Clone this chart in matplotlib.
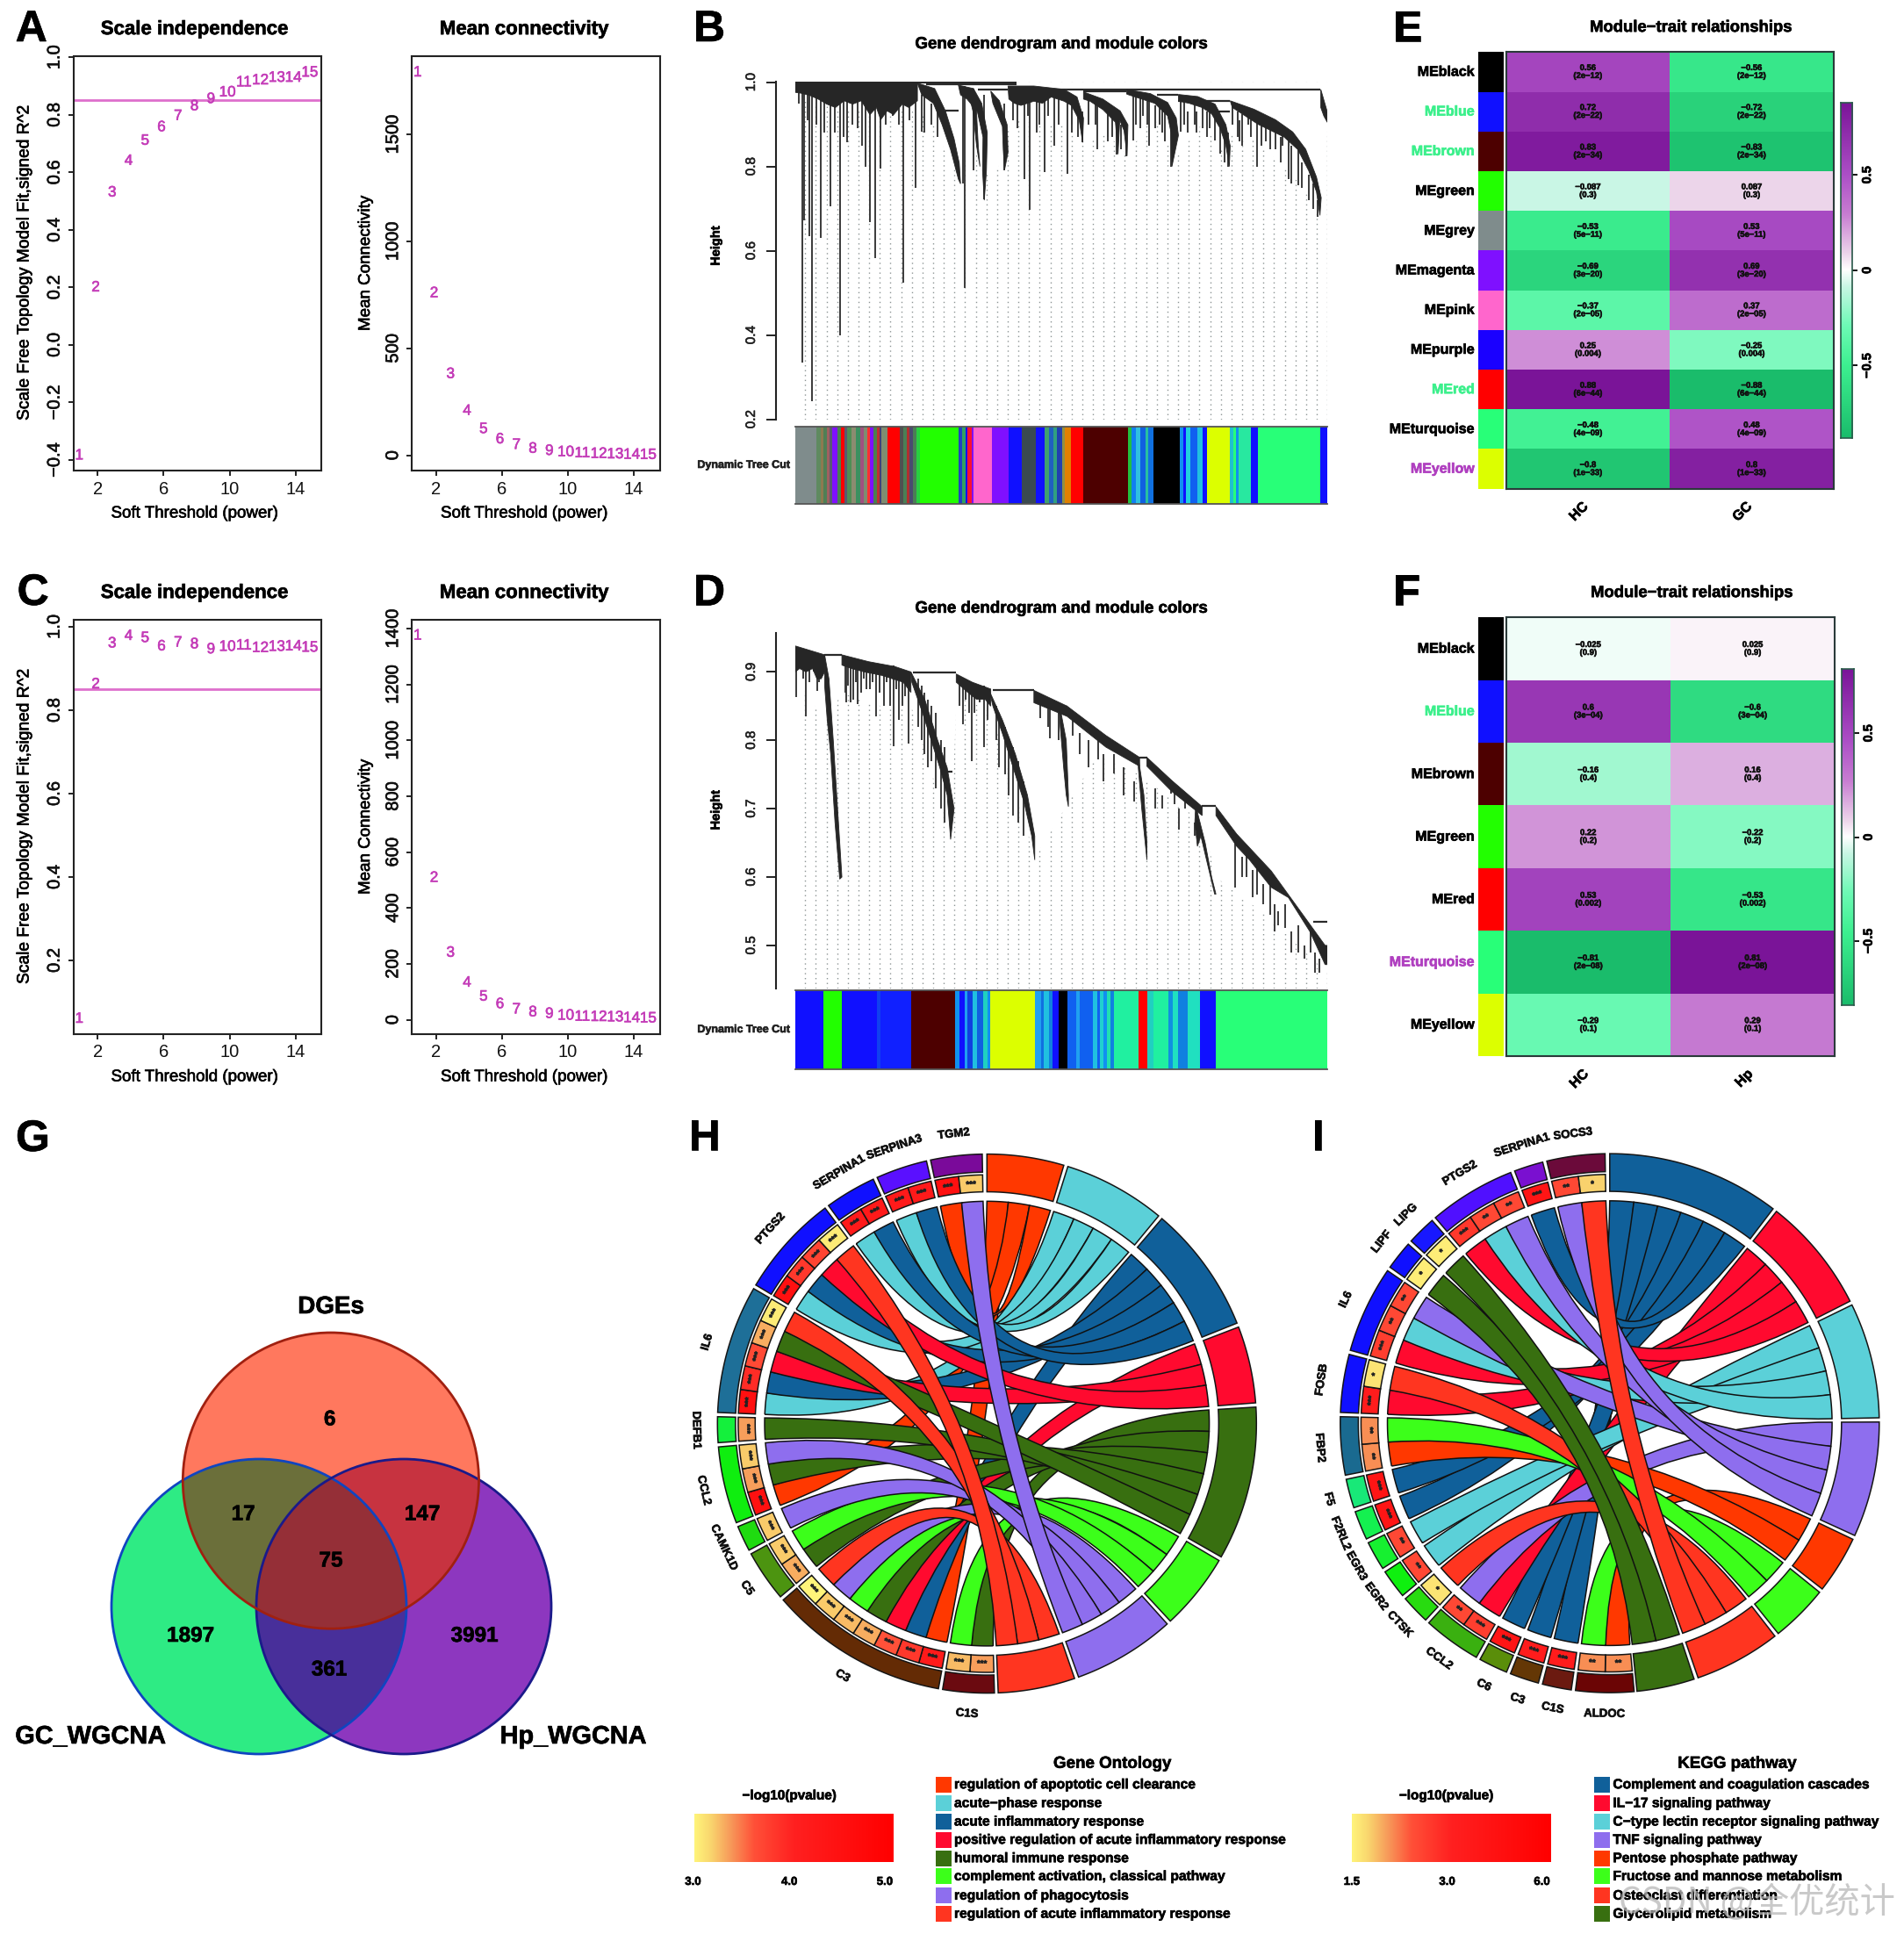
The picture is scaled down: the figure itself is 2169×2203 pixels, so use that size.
import numpy as np
import matplotlib
matplotlib.use("Agg")
import matplotlib.pyplot as plt
import matplotlib.patheffects as pe
from matplotlib.colors import LinearSegmentedColormap, Normalize, to_rgb
from matplotlib.patches import Circle, PathPatch, Polygon, Rectangle
from matplotlib.path import Path
from matplotlib.text import Text

plt.rcParams["font.family"] = ["Liberation Sans", "DejaVu Sans"]

W, H = 2169, 2203

# ---- soft threshold panels
POWERS = list(range(1, 16))
A_R2 = [-0.384, 0.20, 0.53, 0.64, 0.71, 0.757, 0.796, 0.83, 0.855, 0.878, 0.913, 0.92, 0.929, 0.929, 0.947]
A_CONN = [1790, 758, 380, 208, 123, 75, 49, 31, 21, 15, 10, 7, 5, 3, 2]
C_R2 = [0.06, 0.862, 0.96, 0.978, 0.973, 0.953, 0.962, 0.958, 0.946, 0.952, 0.955, 0.949, 0.952, 0.953, 0.95]
C_CONN = [1375, 508, 240, 133, 83, 56, 37, 27, 21, 15, 11, 10, 9, 6, 5]
R2_CUT = 0.85

# ---- dendrogram B: branch outlines, single drops, joins, guide limit, module bar
B_BANDS_X = [
    [0, 283, 283, 263, 248, 228, 213, 198, 188, 173, 153, 133, 113, 93, 73, 53, 33, 13, 0],
    [283, 323, 348, 368, 380, 383, 378, 360, 340, 320, 293],
    [378, 413, 432, 445, 443, 438, 434, 435, 422, 398, 383],
    [413, 420, 424, 428, 420, 412, 405],
    [453, 473, 491, 493, 485, 482, 480, 466, 458],
    [493, 553, 623, 653, 668, 666, 658, 640, 623, 593, 573, 553, 523, 508, 495],
    [668, 713, 753, 771, 769, 762, 752, 748, 742, 713, 683, 668],
    [768, 823, 863, 883, 888, 873, 871, 863, 833, 803, 773, 768],
    [888, 933, 973, 998, 1008, 1006, 998, 985, 965, 943, 913, 888],
    [1008, 1063, 1113, 1153, 1183, 1208, 1219, 1216, 1208, 1190, 1165, 1133, 1103, 1073, 1043, 1013],
    [1218, 1233, 1233, 1225, 1218],
]
B_BANDS_H = [
    [0.999, 0.998, 0.956, 0.940, 0.948, 0.923, 0.932, 0.911, 0.940, 0.923, 0.956, 0.948, 0.956, 0.940, 0.948, 0.960, 0.969, 0.974, 0.976],
    [0.998, 0.985, 0.932, 0.866, 0.808, 0.759, 0.77, 0.84, 0.90, 0.95, 0.97],
    [0.993, 0.985, 0.95, 0.88, 0.79, 0.72, 0.79, 0.87, 0.93, 0.96, 0.97],
    [0.985, 0.93, 0.85, 0.80, 0.85, 0.93, 0.96],
    [0.979, 0.956, 0.899, 0.833, 0.792, 0.84, 0.895, 0.93, 0.95],
    [0.991, 0.991, 0.983, 0.965, 0.915, 0.857, 0.91, 0.945, 0.955, 0.965, 0.95, 0.955, 0.945, 0.95, 0.96],
    [0.977, 0.960, 0.932, 0.899, 0.825, 0.885, 0.91, 0.829, 0.905, 0.935, 0.955, 0.96],
    [0.983, 0.973, 0.952, 0.915, 0.874, 0.80, 0.88, 0.92, 0.95, 0.96, 0.97, 0.972],
    [0.971, 0.966, 0.948, 0.899, 0.849, 0.80, 0.85, 0.89, 0.925, 0.94, 0.95, 0.955],
    [0.956, 0.936, 0.911, 0.882, 0.841, 0.775, 0.726, 0.684, 0.74, 0.79, 0.84, 0.87, 0.885, 0.90, 0.92, 0.94],
    [0.983, 0.93, 0.905, 0.92, 0.94],
]
B_DROP_X = [16, 21, 38, 33, 59, 81, 103, 121, 163, 173, 185, 198, 250, 279, 293, 392, 388, 413, 438, 485, 531, 543, 578, 631, 665, 745, 768, 783, 870, 893, 973, 1003, 1013, 1071, 1113, 1143, 1165,
            8, 28, 48, 68, 92, 112, 132, 145, 155, 210, 225, 240, 265, 300, 315, 330, 560, 600, 640, 700, 725, 800, 820, 850, 910, 930, 960, 1030, 1050, 1090, 1130]
B_DROP_TOP = [0.98, 0.98, 0.98, 0.98, 0.98, 0.97, 0.97, 0.97, 0.96, 0.96, 0.98, 0.96, 0.97, 0.98, 0.97, 0.99, 0.99, 0.97, 0.97, 0.95, 0.98, 0.98, 0.97, 0.96, 0.93, 0.93, 0.90, 0.98, 0.92, 0.97, 0.94, 0.88, 0.95, 0.93, 0.90, 0.87, 0.84,
              0.98, 0.98, 0.98, 0.97, 0.97, 0.97, 0.97, 0.97, 0.97, 0.96, 0.96, 0.96, 0.97, 0.97, 0.95, 0.95, 0.97, 0.97, 0.96, 0.95, 0.94, 0.97, 0.96, 0.94, 0.93, 0.93, 0.95, 0.91, 0.94, 0.91, 0.90]
B_DROP_LOW = [0.334, 0.672, 0.244, 0.635, 0.631, 0.705, 0.40, 0.857, 0.80, 0.668, 0.582, 0.796, 0.524, 0.75, 0.882, 0.512, 0.759, 0.792, 0.722, 0.792, 0.771, 0.697, 0.787, 0.783, 0.857, 0.829, 0.825, 0.862, 0.80, 0.882, 0.862, 0.80, 0.899, 0.80, 0.841, 0.771, 0.755,
              0.95, 0.91, 0.90, 0.88, 0.88, 0.87, 0.90, 0.89, 0.85, 0.90, 0.92, 0.90, 0.91, 0.88, 0.90, 0.87, 0.88, 0.85, 0.90, 0.84, 0.86, 0.89, 0.85, 0.88, 0.88, 0.88, 0.89, 0.86, 0.90, 0.86, 0.85]
B_TWIG_X = [790, 805, 815, 835, 845, 856, 875, 902, 925, 945, 955, 985, 995, 1025, 1035, 1055, 1080, 1100, 1125, 1150, 1175, 1190, 1200, 1210,
            505, 515, 540, 565, 585, 610, 640, 655, 680, 695, 725, 735, 755]
B_TWIG_TOP = [0.97, 0.96, 0.955, 0.945, 0.94, 0.93, 0.90, 0.965, 0.955, 0.945, 0.93, 0.90, 0.88, 0.93, 0.925, 0.915, 0.90, 0.89, 0.87, 0.85, 0.81, 0.78, 0.76, 0.72,
              0.985, 0.985, 0.985, 0.98, 0.975, 0.975, 0.955, 0.93, 0.965, 0.955, 0.93, 0.925, 0.90]
B_TWIG_LOW = [0.90, 0.92, 0.90, 0.89, 0.90, 0.86, 0.85, 0.90, 0.90, 0.89, 0.87, 0.83, 0.81, 0.87, 0.85, 0.87, 0.85, 0.84, 0.81, 0.76, 0.75, 0.72, 0.70, 0.68,
              0.91, 0.89, 0.92, 0.90, 0.92, 0.90, 0.88, 0.87, 0.90, 0.90, 0.87, 0.87, 0.84]
B_JOIN_X0 = [0, 513, 303, 348, 423, 668, 838, 888, 978]
B_JOIN_X1 = [513, 1217, 513, 378, 493, 768, 888, 1008, 1008]
B_JOIN_H = [0.999, 0.983, 0.995, 0.932, 0.983, 0.979, 0.971, 0.956, 0.93]
B_GUIDE_X = [0, 100, 200, 283, 320, 345, 378, 410, 440, 470, 500, 560, 620, 668, 720, 768, 830, 880, 940, 1000, 1010, 1070, 1130, 1170, 1216, 1233]
B_GUIDE_H = [0.96, 0.94, 0.93, 0.94, 0.90, 0.84, 0.78, 0.85, 0.78, 0.80, 0.92, 0.90, 0.90, 0.86, 0.88, 0.83, 0.92, 0.82, 0.90, 0.83, 0.88, 0.86, 0.80, 0.76, 0.68, 0.90]
B_CUT_START = [0, 48, 58, 66, 74, 80, 86, 98, 106, 114, 120, 130, 140, 150, 158, 166, 172, 182, 190, 196, 200, 213, 243, 250, 258, 264, 272, 280, 288,
               378, 386, 394, 398, 408, 413, 455, 495, 525, 558, 578, 588, 598, 606, 618, 624, 638, 668, 771, 780, 790, 800, 812, 818, 830, 891, 899, 905, 915, 932, 944,
               955, 1008, 1016, 1022, 1028, 1055, 1073, 1216]
B_CUT_COLOR = ["#7f8c8c", "#5f8a60", "#8c7a50", "#4f7f55", "#a06060", "#5a5a70", "#7f10ff", "#4a8050", "#ff0000", "#5a5a70", "#4f8f55", "#8c8c70", "#3c9060", "#a05080", "#7f8c70", "#ff3030", "#7f10ff", "#4a8050", "#c03030", "#40407a", "#7f8c70", "#ff0000", "#505050", "#4a7f55", "#b03030", "#4a4a70", "#4a7f55", "#28d040", "#22ff00",
               "#2040c0", "#30a060", "#1010ff", "#ff1030", "#7f10ff", "#ff66cc", "#7f10ff", "#1010ff", "#3a4a50", "#1010ff", "#40a070", "#2060c0", "#30a080", "#2040b0", "#909040", "#e08000", "#ff0000", "#4d0000", "#22c040", "#1080f0", "#30c0e0", "#1060e0", "#28c0a0", "#1070e0", "#000000", "#1090f0", "#1010ff", "#20d0e0", "#1060f0", "#20c0e0", "#1010ff",
               "#dcff00", "#20c0d0", "#28ff78", "#1090f0", "#28e8a0", "#1010ff", "#28ff78", "#1010ff"]

# ---- dendrogram D
D_BANDS_X = [
    [0, 68, 68, 60, 50, 40, 25, 10, 0],
    [68, 78, 88, 100, 108, 103, 92, 82, 74, 68],
    [108, 170, 230, 268, 268, 250, 200, 160, 130, 108],
    [268, 300, 330, 352, 368, 360, 352, 335, 315, 295, 270],
    [373, 410, 453, 453, 440, 420, 400, 373],
    [450, 480, 510, 538, 555, 555, 548, 530, 505, 480, 458],
    [553, 630, 720, 798, 798, 720, 630, 553],
    [613, 628, 633, 633, 628, 622, 614, 612],
    [795, 808, 815, 815, 811, 803, 795],
    [815, 873, 943, 943, 873, 815],
    [928, 950, 965, 975, 972, 955, 940, 932, 926],
    [975, 1023, 1103, 1173, 1228, 1233, 1233, 1228, 1193, 1143, 1103, 1053, 1023, 975],
]
D_BANDS_H = [
    [0.938, 0.925, 0.90, 0.89, 0.89, 0.905, 0.90, 0.905, 0.90],
    [0.925, 0.89, 0.80, 0.68, 0.60, 0.597, 0.68, 0.78, 0.83, 0.88],
    [0.925, 0.915, 0.908, 0.90, 0.87, 0.885, 0.895, 0.90, 0.905, 0.91],
    [0.90, 0.86, 0.80, 0.76, 0.70, 0.655, 0.72, 0.76, 0.80, 0.84, 0.885],
    [0.897, 0.885, 0.875, 0.85, 0.86, 0.86, 0.87, 0.885],
    [0.872, 0.83, 0.78, 0.72, 0.66, 0.625, 0.66, 0.71, 0.76, 0.81, 0.85],
    [0.873, 0.85, 0.807, 0.775, 0.762, 0.79, 0.835, 0.855],
    [0.85, 0.80, 0.72, 0.703, 0.72, 0.76, 0.82, 0.845],
    [0.775, 0.72, 0.65, 0.625, 0.65, 0.70, 0.76],
    [0.775, 0.741, 0.703, 0.69, 0.725, 0.762],
    [0.705, 0.65, 0.60, 0.575, 0.575, 0.62, 0.66, 0.645, 0.68],
    [0.703, 0.663, 0.609, 0.548, 0.50, 0.50, 0.472, 0.472, 0.52, 0.57, 0.585, 0.625, 0.645, 0.69],
]
D_DROP_X = [3, 24, 50, 118, 128, 145, 165, 188, 205, 228, 240, 262, 388, 408, 438, 568, 591, 643, 701, 738, 870, 878, 903, 1020, 1045, 1070, 1100, 1135, 1165, 1195]
D_DROP_TOP = [0.93, 0.92, 0.92, 0.92, 0.92, 0.91, 0.91, 0.91, 0.91, 0.91, 0.90, 0.90, 0.89, 0.885, 0.88, 0.865, 0.85, 0.83, 0.80, 0.78, 0.74, 0.73, 0.72, 0.66, 0.64, 0.62, 0.60, 0.56, 0.53, 0.52]
D_DROP_LOW = [0.863, 0.835, 0.872, 0.855, 0.855, 0.853, 0.875, 0.835, 0.85, 0.792, 0.83, 0.795, 0.823, 0.769, 0.79, 0.833, 0.803, 0.807, 0.772, 0.752, 0.722, 0.706, 0.70, 0.585, 0.60, 0.575, 0.545, 0.525, 0.49, 0.49]
D_TWIG_X = [10, 18, 32, 42, 55, 115, 122, 135, 140, 152, 158, 172, 180, 195, 212, 220, 235, 248, 255, 285, 292, 300, 308, 316, 325, 338, 345,
            380, 395, 402, 415, 428, 445, 465, 472, 486, 495, 505, 516, 528, 585, 610, 660, 680, 715, 760, 785, 835, 850, 890, 925,
            1035, 1060, 1085, 1110, 1120, 1150, 1180, 1205, 1215]
D_TWIG_TOP = [0.93, 0.93, 0.925, 0.925, 0.92, 0.92, 0.92, 0.915, 0.915, 0.915, 0.915, 0.91, 0.91, 0.91, 0.905, 0.905, 0.905, 0.90, 0.90, 0.89, 0.88, 0.87, 0.86, 0.85, 0.84, 0.80, 0.79,
              0.885, 0.885, 0.88, 0.88, 0.88, 0.875, 0.85, 0.84, 0.82, 0.80, 0.79, 0.77, 0.74, 0.86, 0.84, 0.81, 0.80, 0.78, 0.76, 0.74, 0.73, 0.72, 0.70, 0.68,
              0.63, 0.61, 0.59, 0.56, 0.55, 0.52, 0.50, 0.49, 0.48]
D_TWIG_LOW = [0.905, 0.89, 0.885, 0.90, 0.885, 0.87, 0.88, 0.86, 0.885, 0.87, 0.89, 0.875, 0.885, 0.87, 0.885, 0.85, 0.875, 0.85, 0.865, 0.82, 0.80, 0.78, 0.76, 0.77, 0.73, 0.70, 0.68,
              0.85, 0.86, 0.84, 0.84, 0.855, 0.83, 0.80, 0.76, 0.75, 0.72, 0.69, 0.68, 0.66, 0.82, 0.80, 0.78, 0.76, 0.74, 0.72, 0.71, 0.70, 0.70, 0.67, 0.66,
              0.60, 0.57, 0.56, 0.52, 0.53, 0.49, 0.48, 0.46, 0.46]
D_JOIN_X0 = [68, 273, 458, 798, 613, 943, 1201, 348]
D_JOIN_X1 = [108, 373, 553, 815, 630, 975, 1233, 365]
D_JOIN_H = [0.925, 0.899, 0.873, 0.775, 0.849, 0.704, 0.534, 0.754]
D_GUIDE_X = [0, 68, 108, 200, 268, 360, 373, 453, 555, 700, 798, 943, 975, 1100, 1233]
D_GUIDE_H = [0.89, 0.83, 0.87, 0.85, 0.85, 0.66, 0.87, 0.84, 0.63, 0.78, 0.75, 0.68, 0.60, 0.54, 0.46]
D_CUT_START = [0, 66, 108, 190, 198, 268, 371, 380, 392, 398, 412, 422, 436, 446, 451, 555, 569, 575, 587, 597, 611, 631, 651, 659, 689, 699, 707, 715, 723, 731, 739, 795, 815, 831, 865, 875, 887, 909, 938, 975]
D_CUT_COLOR = ["#1010ff", "#22ff00", "#1010ff", "#1040f0", "#1020ff", "#4d0000", "#1090f0", "#1010ff", "#20a0f0", "#1040e0", "#20c0e0", "#1060e0", "#20d0c0", "#1090f0", "#dcff00", "#20a0f0", "#1070e0", "#20c0e0", "#1080e0", "#1010ff", "#000000", "#1060f0", "#20a0f0", "#1060f0", "#20c0e0", "#1060f0", "#20d0d0", "#1090f0", "#20e0b0", "#1080e0", "#20f0a0", "#ff0000", "#20d0c0", "#20f0a0", "#1090e0", "#20e0c0", "#1080e0", "#20e0c0", "#1010ff", "#28ff78"]

# ---- module-trait tables
E_MODULES = ["MEblack", "MEblue", "MEbrown", "MEgreen", "MEgrey", "MEmagenta", "MEpink", "MEpurple", "MEred", "MEturquoise", "MEyellow"]
E_SWATCH = ["#000000", "#1010ff", "#4d0000", "#22ff00", "#7f8c8c", "#7f10ff", "#ff66cc", "#1a00ff", "#ff0000", "#28ff78", "#dcff00"]
E_TEXT = ["black", "#3cf08c", "#3cf08c", "black", "black", "black", "black", "black", "#3cf08c", "black", "#b040c0"]
E_HC = [0.56, 0.72, 0.83, -0.087, -0.53, -0.69, -0.37, 0.25, 0.88, -0.48, -0.8]
E_GC = [-0.56, -0.72, -0.83, 0.087, 0.53, 0.69, 0.37, -0.25, -0.88, 0.48, 0.8]
E_P = ["2e-12", "2e-22", "2e-34", "0.3", "5e-11", "3e-20", "2e-05", "0.004", "6e-44", "4e-09", "1e-33"]

F_MODULES = ["MEblack", "MEblue", "MEbrown", "MEgreen", "MEred", "MEturquoise", "MEyellow"]
F_SWATCH = ["#000000", "#1010ff", "#4d0000", "#22ff00", "#ff0000", "#28ff78", "#dcff00"]
F_TEXT = ["black", "#3cf08c", "black", "black", "black", "#b040c0", "black"]
F_HC = [-0.025, 0.6, -0.16, 0.22, 0.53, -0.81, -0.29]
F_HP = [0.025, -0.6, 0.16, -0.22, -0.53, 0.81, 0.29]
F_P = ["0.9", "3e-04", "0.4", "0.2", "0.002", "2e-08", "0.1"]

# ---- venn
VENN_COUNTS = ["6", "17", "147", "75", "1897", "361", "3991"]

# ---- chord H, genes clockwise from the bottom, terms clockwise from the top
H_TERMS = ["regulation of apoptotic cell clearance", "acute\u2212phase response", "acute inflammatory response",
           "positive regulation of acute inflammatory response", "humoral immune response",
           "complement activation, classical pathway", "regulation of phagocytosis", "regulation of acute inflammatory response"]
H_TERM_COLORS = ["#ff3800", "#5bd0d8", "#10609a", "#ff0a2f", "#386f10", "#3cff1a", "#8e6eee", "#ff3520"]
H_GENES = ["C1S", "C3", "C5", "CAMK1D", "CCL2", "DEFB1", "IL6", "PTGS2", "SERPINA1", "SERPINA3", "TGM2"]
H_GENE_COLORS = ["#6b0a10", "#642b05", "#4c9410", "#1fdb10", "#0fee0f", "#14f03c", "#1e6f98", "#1010ff", "#1010ff", "#5a10ff", "#7a0a9a"]
H_GENE_TERMS = [[5, 6], [1, 3, 4, 5, 6, 7, 8], [5, 6], [7], [1, 5, 7], [5], [2, 3, 4, 5, 8], [2, 3, 4, 8], [2, 3], [2, 3], [1, 7]]
H_GENE_P = [[3.35, 3.25], [4.2, 3.8, 3.6, 3.3, 3.25, 3.2, 3.0], [3.3, 3.2], [3.2], [4.5, 3.35, 3.2], [3.35],
            [4.5, 3.9, 3.65, 3.3, 3.05], [4.5, 3.8, 3.7, 3.05], [4.2, 4.2], [4.2, 4.2], [4.5, 3.2]]
H_GENE_STARS = [["***"] * len(g) for g in H_GENE_TERMS]

# ---- chord I
I_TERMS = ["Complement and coagulation cascades", "IL\u221217 signaling pathway", "C\u2212type lectin receptor signaling pathway",
           "TNF signaling pathway", "Pentose phosphate pathway", "Fructose and mannose metabolism",
           "Osteoclast differentiation", "Glycerolipid metabolism"]
I_TERM_COLORS = ["#10609a", "#ff0a2f", "#5bd0d8", "#8e6eee", "#ff3800", "#3cff1a", "#ff3520", "#386f10"]
I_GENES = ["ALDOC", "C1S", "C3", "C6", "CCL2", "CTSK", "EGR2", "EGR3", "F2RL2", "F5", "FBP2", "FOSB", "IL6", "LIPF", "LIPG", "PTGS2", "SERPINA1", "SOCS3"]
I_GENE_COLORS = ["#6b0505", "#6b1a10", "#643705", "#5a8e0a", "#3ab010", "#28db10", "#0ff00f", "#16f030", "#14f050", "#18e878", "#1a6a90", "#1010ff", "#1010ff", "#1010ff", "#1818ff", "#5010ff", "#7a10d0", "#6b0a3a"]
I_GENE_TERMS = [[5, 6], [1], [1], [1], [2, 4], [7], [3], [3], [1], [1], [5, 6], [2, 7], [2, 3, 4], [8], [8], [2, 3, 4], [1], [4, 7]]
I_GENE_P = [[2.4, 2.4], [4.0], [4.0], [4.5], [3.2, 3.0], [1.7], [3.0], [3.0], [4.5], [4.5], [2.4, 2.4], [4.0, 1.7], [3.2, 3.0, 3.0], [1.6], [1.6], [3.3, 3.0, 3.0], [4.5], [3.0, 1.9]]
I_GENE_STARS = [["**", "**"], ["***"], ["***"], ["***"], ["***", "**"], ["*"], ["**"], ["**"], ["***"], ["***"], ["**", "**"], ["***", "*"], ["***", "**", "**"], ["*"], ["*"], ["***", "**", "**"], ["***"], ["**", "*"]]

H_LEGEND_TICKS = ["3.0", "4.0", "5.0"]
I_LEGEND_TICKS = ["1.5", "3.0", "6.0"]

PINK_TEXT = "#c43cb8"
PINK_LINE = "#de6fcc"
INK = "#222222"

heat_cmap = LinearSegmentedColormap.from_list(
    "heat", [(0, "#1abc6b"), (0.216, "#3df090"), (0.335, "#6efab6"), (0.45, "#c8f6e4"), (0.5, "#ffffff"),
             (0.55, "#ecd4ea"), (0.665, "#c87ed2"), (0.784, "#ac4fc6"), (1, "#7a1498")])
p_cmap = LinearSegmentedColormap.from_list(
    "pval", [(0, "#fff47a"), (0.08, "#f9d66e"), (0.18, "#f79a5a"), (0.3, "#ff5038"), (0.5, "#ff2020"), (1, "#ff0000")])

fig = plt.figure(figsize=(W / 100, H / 100), dpi=100, facecolor="white")

page = fig.add_axes([0, 0, 1, 1], zorder=20)
page.set_xlim(0, W)
page.set_ylim(H, 0)
page.axis("off")


def px_axes(x0, y0, x1, y1):
    return fig.add_axes([x0 / W, 1 - y1 / H, (x1 - x0) / W, (y1 - y0) / H])


def put(x, y, s, size, weight="normal", **kw):
    kw.setdefault("ha", "center")
    kw.setdefault("va", "center")
    page.text(x, y, s, fontsize=size, fontweight=weight, **kw)


def sft_panel(box, values, ylim, yticks, line=None, fmt=None):
    ax = px_axes(*box)
    for p, v in zip(POWERS, values):
        ax.text(p - 0.13, v, str(p), color=PINK_TEXT, fontsize=12.3, ha="center", va="center")
    if line is not None:
        ax.axhline(line, color=PINK_LINE, lw=2)
    ax.set_xlim(0.51, 15.57)
    ax.set_ylim(*ylim)
    ax.set_xticks([2, 6, 10, 14])
    ax.set_yticks(yticks)
    if fmt:
        ax.set_yticklabels([(fmt % t).replace("-", "\u2212") for t in yticks])
    ax.tick_params(length=4.5, width=1.4, color=INK, labelsize=14.5, labelcolor="#111111", pad=4)
    for lab in ax.get_yticklabels():
        lab.set_rotation(90)
        lab.set_va("center")
    for s in ax.spines.values():
        s.set_linewidth(1.5)
        s.set_color(INK)
    return ax


def dendrogram(box, ylim, ticks, fmt, bands_x, bands_h, drop_x, drop_top, drop_low,
               join_x0, join_x1, join_h, guide_x, guide_h):
    ax = px_axes(*box)
    ax.set_xlim(0, 1233)
    ax.set_ylim(*ylim)
    ax.vlines(np.arange(23, 1234, 24.7), ylim[0], ylim[1], color="#8c9494", lw=1.0,
              linestyles=(0, (1, 3)), zorder=1)
    ax.fill_between(guide_x, guide_h, ylim[1], color="white", lw=0, zorder=2)
    for xs, hs in zip(bands_x, bands_h):
        ax.fill(xs, hs, color="#262626", lw=0.6, zorder=4)
    ax.vlines(drop_x, drop_low, drop_top, color="#3a3a3a", lw=1.4, zorder=3)
    ax.hlines(join_h, join_x0, join_x1, color="#2a2a2a", lw=1.6, zorder=3)
    for s in ["top", "right", "bottom"]:
        ax.spines[s].set_visible(False)
    ax.spines["left"].set_position(("outward", 16))
    ax.spines["left"].set_linewidth(1.5)
    ax.spines["left"].set_color(INK)
    ax.set_xticks([])
    ax.set_yticks(ticks)
    ax.set_yticklabels([fmt % t for t in ticks])
    ax.tick_params(axis="y", length=8, width=1.4, color=INK, labelsize=11, pad=7, labelcolor="#222222")
    for lab in ax.get_yticklabels():
        lab.set_rotation(90)
        lab.set_va("center")
    ax.patch.set_alpha(0)
    return ax


def cut_bar(box, starts, colors):
    ax = px_axes(*box)
    ax.set_xlim(0, 1233)
    ax.set_ylim(0, 1)
    widths = np.diff(starts + [1233])
    ax.bar(starts, 1, width=widths, color=colors, align="edge", lw=0)
    ax.set_xticks([])
    ax.set_yticks([])
    for s in ["left", "right"]:
        ax.spines[s].set_visible(False)
    for s in ["top", "bottom"]:
        ax.spines[s].set_color("#555555")
        ax.spines[s].set_linewidth(1.3)


def heatmap(box, swatch_box, cbar_box, modules, swatch, text_colors, col1, col2, pvals, cols, vmax):
    ax = px_axes(*box)
    values = np.array([col1, col2]).T
    norm = Normalize(-vmax, vmax)
    ax.pcolormesh(values, cmap=heat_cmap, norm=norm)
    ax.set_ylim(len(modules), 0)
    for i, p in enumerate(pvals):
        for j in range(2):
            label = str(values[i, j]).replace("-", "\u2212") + "\n(" + p.replace("-", "\u2212") + ")"
            ax.text(j + 0.5, i + 0.5, label, ha="center", va="center", fontsize=6.8, fontweight="bold",
                    linespacing=1.0, color="#111111")
    ax.set_xticks([0.46, 1.46])
    ax.set_xticklabels(cols, rotation=45, ha="right", rotation_mode="anchor", fontsize=11.5, fontweight="bold")
    ax.tick_params(axis="x", length=0, pad=9)
    ax.set_yticks([])
    for s in ax.spines.values():
        s.set_linewidth(1.5)
        s.set_color("#2a3a3a")

    sw = px_axes(*swatch_box)
    sw.bar(0, 1, bottom=np.arange(len(modules)), width=1, color=swatch, align="edge", lw=0)
    sw.set_xlim(0, 1)
    sw.set_ylim(len(modules), 0)
    sw.axis("off")
    for i, (m, c) in enumerate(zip(modules, text_colors)):
        sw.text(-0.12, i + 0.5, m, color=c, fontsize=11.5, fontweight="bold", ha="right", va="center")

    cb = px_axes(*cbar_box)
    grad = np.linspace(vmax, -vmax, 256).reshape(-1, 1)
    cb.imshow(grad, cmap=heat_cmap, norm=norm, aspect="auto", extent=[0, 1, -vmax, vmax])
    cb.set_xticks([])
    cb.yaxis.tick_right()
    cb.set_yticks([-0.5, 0, 0.5])
    cb.set_yticklabels(["\u22120.5", "0", "0.5"], rotation=90, va="center", fontsize=10.5, fontweight="bold")
    cb.tick_params(axis="y", length=4, width=1.3, pad=3)
    for s in cb.spines.values():
        s.set_linewidth(1.2)
        s.set_color("#2a5a4a")


def polar(r, theta):
    t = np.radians(theta)
    return r * np.sin(t), r * np.cos(t)


def ring(ax, t0, t1, r0, r1, color):
    ts = np.linspace(t0, t1, 30)
    xo, yo = polar(r1, ts)
    xi, yi = polar(r0, ts[::-1])
    ax.add_patch(Polygon(np.column_stack([np.r_[xo, xi], np.r_[yo, yi]]), closed=True,
                         fc=color, ec="#151515", lw=1.1))


def ribbon(ax, a0, a1, b0, b1, color, r=0.825, w=0.016):
    ta = np.linspace(a0, a1, 10)
    tb = np.linspace(b0, b1, 10)
    p0 = np.array(polar(r, a0))
    p1 = np.array(polar(r, a1))
    d = (p1 - p0) / np.linalg.norm(p1 - p0)
    pts = [np.column_stack(polar(r, ta)), [w * d], [polar(r, tb[0])], np.column_stack(polar(r, tb[1:])),
           [-w * d], [polar(r, ta[0])]]
    verts = np.vstack(pts)
    codes = [Path.MOVETO] + [Path.LINETO] * 9 + [Path.CURVE3, Path.CURVE3] + [Path.LINETO] * 9 + [Path.CURVE3, Path.CURVE3]
    ax.add_patch(PathPatch(Path(verts, codes), fc=color, ec="#111111", lw=1.1))


def cell_rotation(theta):
    return 360 - theta if theta > 270 else 180 - theta


def chord(center, radius, terms, term_colors, genes, gene_colors, gene_terms, gene_p, gene_stars,
          left_start, right_end, vmin, vmax, gap=0.9, reverse=()):
    span = radius * 1.12
    ax = px_axes(center[0] - span, center[1] - span, center[0] + span, center[1] + span)
    ax.set_xlim(-1.12, 1.12)
    ax.set_ylim(-1.12, 1.12)
    ax.axis("off")
    n = sum(len(g) for g in gene_terms)
    norm = Normalize(vmin, vmax)

    counts = [sum(g.count(i + 1) for g in gene_terms) for i in range(len(terms))]
    unit = (right_end - (len(terms) - 1) * gap) / n
    slots = []
    th = 0.0
    for i, c in enumerate(counts):
        ring(ax, th, th + c * unit, 0.86, 1.0, term_colors[i])
        # reversed terms hand their slots out from the far end
        slots.append(th + (c - 1) * unit if i + 1 in reverse else th)
        th += c * unit + gap

    unit_g = (359 - left_start - (len(genes) - 1) * gap) / n
    ends = []
    th = left_start
    for g, name in enumerate(genes):
        width = len(gene_terms[g]) * unit_g
        ring(ax, th, th + width, 0.933, 1.0, gene_colors[g])
        mid = th + width / 2
        x, y = polar(1.08, mid)
        ax.text(x, y, name, rotation=cell_rotation(mid), ha="center", va="center", fontsize=9.5,
                fontweight="bold", color="#111111")
        for k, term in enumerate(gene_terms[g]):
            a0 = th + k * unit_g
            ring(ax, a0, a0 + unit_g, 0.86, 0.923, p_cmap(norm(gene_p[g][k])))
            x, y = polar(0.89, a0 + unit_g / 2)
            ax.text(x, y, gene_stars[g][k], rotation=cell_rotation(a0 + unit_g / 2), ha="center", va="center",
                    fontsize=7, fontweight="bold", color="#222222")
            b0 = slots[term - 1]
            slots[term - 1] += -unit if term in reverse else unit
            ends.append((term, a0, a0 + unit_g, b0, b0 + unit))
        th += width + gap

    for term, a0, a1, b0, b1 in sorted(ends, key=lambda e: e[0]):
        ribbon(ax, a0, a1, b0, b1, term_colors[term - 1])


def legend_block(title, title_x, swatch_x, labels, colors, grad_x, tick_x, ticks):
    put(title_x, 2009.3, title, 13.5, "bold")
    for y, lab, col in zip(LEGEND_Y, labels, colors):
        page.add_patch(Rectangle((swatch_x, y - 9), 18, 18, fc=col, lw=0))
        put(swatch_x + 21, y, lab, 11.2, "bold", ha="left")
    g = px_axes(grad_x, 2066, grad_x + 227, 2120.7)
    g.imshow(np.linspace(0, 1, 256).reshape(1, -1), cmap=p_cmap, aspect="auto")
    g.axis("off")
    put(grad_x + 108, 2045.7, "\u2212log10(pvalue)", 11, "bold")
    for x, t in zip(tick_x, ticks):
        put(x, 2144, t, 9.5, "bold")


LEGEND_Y = [2032.7, 2054, 2075, 2095.7, 2116.7, 2137.3, 2159.3, 2180]

# A, C
sft_panel((83.5, 64, 366, 535.8), A_R2, (-0.436, 1.004), [-0.4, -0.2, 0, 0.2, 0.4, 0.6, 0.8, 1.0], R2_CUT,
          "%.1f")
sft_panel((469, 64, 751.5, 535.8), A_CONN, (-70, 1866), [0, 500, 1000, 1500])
sft_panel((83.5, 705.9, 366, 1177.6), C_R2, (0.024, 1.017), [0.2, 0.4, 0.6, 0.8, 1.0], R2_CUT, "%.1f")
sft_panel((469, 705.9, 751.5, 1177.6), C_CONN, (-50, 1432), [0, 200, 400, 600, 800, 1000, 1200, 1400])
for dy, ly in [(0, 300), (642, 942)]:
    put(221.5, 33.6 + dy, "Scale independence", 16, "bold")
    put(597, 33.6 + dy, "Mean connectivity", 16, "bold")
    put(221.5, 585 + dy, "Soft Threshold (power)", 13.5)
    put(597, 585 + dy, "Soft Threshold (power)", 13.5)
    put(28, ly, "Scale Free Topology Model Fit,signed R^2", 13.8, rotation=90)
    put(416.5, ly, "Mean Connectivity", 13.5, rotation=90)

# B, D
dendrogram((906, 92.9, 1512, 477.7), (0.2, 1.0016), [0.2, 0.4, 0.6, 0.8, 1.0], "%.1f",
           B_BANDS_X, B_BANDS_H, B_DROP_X + B_TWIG_X, B_DROP_TOP + B_TWIG_TOP, B_DROP_LOW + B_TWIG_LOW,
           B_JOIN_X0, B_JOIN_X1, B_JOIN_H, B_GUIDE_X, B_GUIDE_H)
cut_bar((906, 485.6, 1512, 574), B_CUT_START, B_CUT_COLOR)
dendrogram((906, 721, 1512, 1125.6), (0.4375, 0.957), [0.5, 0.6, 0.7, 0.8, 0.9], "%.1f",
           D_BANDS_X, D_BANDS_H, D_DROP_X + D_TWIG_X, D_DROP_TOP + D_TWIG_TOP, D_DROP_LOW + D_TWIG_LOW,
           D_JOIN_X0, D_JOIN_X1, D_JOIN_H, D_GUIDE_X, D_GUIDE_H)
cut_bar((906, 1128.3, 1512, 1218), D_CUT_START, D_CUT_COLOR)
put(1208.6, 50.6, "Gene dendrogram and module colors", 13.5, "bold")
put(1208.6, 693.4, "Gene dendrogram and module colors", 13.5, "bold")
put(815.7, 280, "Height", 10.5, "bold", rotation=90)
put(815.7, 922.7, "Height", 10.5, "bold", rotation=90)
put(900, 530, "Dynamic Tree Cut", 9, "bold", ha="right", color="#222222")
put(900, 1173, "Dynamic Tree Cut", 9, "bold", ha="right", color="#222222")

# E, F
heatmap((1715.7, 59.3, 2088.7, 556.7), (1683.6, 59.3, 1713.3, 556.7), (2096.8, 116.6, 2110.4, 499),
        E_MODULES, E_SWATCH, E_TEXT, E_HC, E_GC, E_P, ["HC", "GC"], 0.88)
heatmap((1715.7, 703.3, 2090.3, 1203), (1683.6, 703.3, 1713.3, 1203), (2098.4, 761.8, 2112, 1145.3),
        F_MODULES, F_SWATCH, F_TEXT, F_HC, F_HP, F_P, ["HC", "Hp"], 0.81)
put(1926, 31.6, "Module\u2212trait relationships", 13.3, "bold")
put(1927, 675.6, "Module\u2212trait relationships", 13.3, "bold")

# G venn
venn = px_axes(80, 1500, 680, 2020)
gx, gy = np.meshgrid(np.arange(80, 680, 0.5), np.arange(1500, 2020, 0.5))
in_d = (gx - 376.9) ** 2 + (gy - 1686.6) ** 2 < 168.6 ** 2
in_g = (gx - 295) ** 2 + (gy - 1830) ** 2 < 168 ** 2
in_h = (gx - 460) ** 2 + (gy - 1830) ** 2 < 168 ** 2
img = np.ones(gx.shape + (3,))
for mask, col in [(in_d, "#ff795f"), (in_g, "#2eec84"), (in_h, "#8d38c0"), (in_g & in_d, "#6b703a"),
                  (in_h & in_d, "#c83340"), (in_g & in_h, "#48309a"), (in_g & in_h & in_d, "#953038")]:
    img[mask] = to_rgb(col)
venn.imshow(img, extent=[80, 680, 2020, 1500], aspect="auto", interpolation="bilinear")
venn.add_patch(Circle((295, 1830), 168, fc="none", ec="#1045c0", lw=2))
venn.add_patch(Circle((460, 1830), 168, fc="none", ec="#1a1a8a", lw=2))
venn.add_patch(Circle((376.9, 1686.6), 168.6, fc="none", ec="#a02010", lw=2))
venn.set_xlim(80, 680)
venn.set_ylim(2020, 1500)
venn.axis("off")
count_pos = [(375.7, 1617), (277, 1725), (481, 1725), (377, 1778), (217, 1863.5), (375, 1902), (540.5, 1863.5)]
for (x, y), s in zip(count_pos, VENN_COUNTS):
    put(x, y, s, 17.5, "bold")
put(377, 1489, "DGEs", 20, "bold")
put(103, 1978, "GC_WGCNA", 20.8, "bold")
put(653, 1978, "Hp_WGCNA", 20.8, "bold")

# H, I
chord((1124.3, 1621.6), 307, H_TERMS, H_TERM_COLORS, H_GENES, H_GENE_COLORS, H_GENE_TERMS, H_GENE_P, H_GENE_STARS,
      178.4, 177.6, 3.0, 5.0)
chord((1833.8, 1621.1), 307, I_TERMS, I_TERM_COLORS, I_GENES, I_GENE_COLORS, I_GENE_TERMS, I_GENE_P, I_GENE_STARS,
      174.8, 174.2, 1.5, 6.0, reverse=(8,))

legend_block("Gene Ontology", 1267, 1066, H_TERMS, H_TERM_COLORS, 791.4, [789.6, 899.3, 1008], H_LEGEND_TICKS)
legend_block("KEGG pathway", 1978.7, 1816.4, I_TERMS, I_TERM_COLORS, 1539.8, [1540, 1648.7, 1756.6], I_LEGEND_TICKS)

# panel letters
for letter, x, y in [("A", 17.7, 47), ("B", 790, 47), ("E", 1587, 47), ("C", 19.6, 689), ("D", 790, 689.4),
                     ("F", 1587, 689.4), ("G", 18, 1311), ("H", 784.5, 1310), ("I", 1494.5, 1310)]:
    put(x, y, letter, 36, "bold", ha="left", va="baseline")

# the reference text is heavy from scaling, thicken everything a little
for t in fig.findobj(Text):
    if t.get_text():
        t.set_path_effects([pe.withStroke(linewidth=0.45, foreground=t.get_color())])

page.text(2001, 2167, "CSDN @\u5168\u4f18\u7edf\u8ba1", fontsize=29, color="#b8b8b8", alpha=0.75,
          family=["Noto Sans CJK SC", "DejaVu Sans"], ha="center", va="center")

fig.savefig("out.png", dpi=100, facecolor="white")
